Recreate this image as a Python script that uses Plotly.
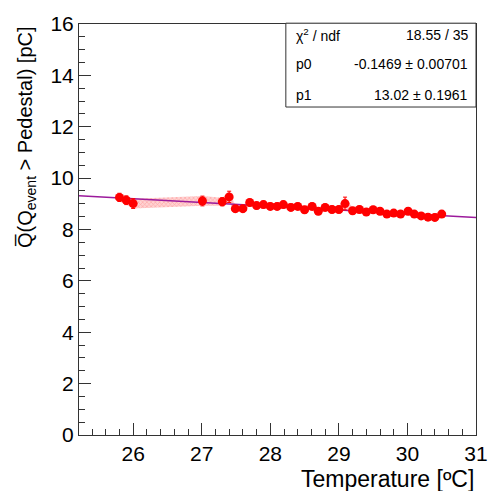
import numpy as np
import plotly.graph_objects as go

temperature = [25.80, 25.90, 26.00, 27.01, 27.30, 27.40, 27.49, 27.60, 27.70, 27.80,
               27.90, 28.00, 28.10, 28.19, 28.30, 28.40, 28.50, 28.61, 28.70, 28.80,
               28.90, 29.00, 29.09, 29.20, 29.30, 29.40, 29.50, 29.60, 29.70, 29.80,
               29.90, 30.01, 30.10, 30.20, 30.30, 30.40, 30.50]
charge = [9.25, 9.14, 9.01, 9.11, 9.08, 9.27, 8.81, 8.81, 9.05, 8.93,
          8.97, 8.90, 8.90, 8.97, 8.86, 8.90, 8.77, 8.90, 8.71, 8.86,
          8.78, 8.78, 9.01, 8.73, 8.78, 8.68, 8.77, 8.71, 8.60, 8.64,
          8.60, 8.71, 8.60, 8.53, 8.48, 8.47, 8.60]
charge_err = [0.16, 0.17, 0.19, 0.19, 0.16, 0.22, 0.13, 0.13, 0.13, 0.13,
              0.13, 0.13, 0.13, 0.13, 0.13, 0.13, 0.13, 0.13, 0.13, 0.13,
              0.13, 0.13, 0.25, 0.13, 0.13, 0.13, 0.13, 0.13, 0.13, 0.13,
              0.13, 0.13, 0.13, 0.13, 0.13, 0.13, 0.13]

fit_p0 = -0.1469
fit_p1 = 13.02
stats_labels = ["\u03c7<sup>2</sup> / ndf", "p0", "p1"]
stats_values = ["18.55 / 35", "-0.1469 \u00b1 0.00701", "13.02 \u00b1 0.1961"]

x_range = [25.21, 31.0]
y_range = [0, 16]

FONT = "Liberation Sans, Arial, Helvetica, sans-serif"

t = np.array(temperature)
q = np.array(charge)
e = np.array(charge_err)

fig = go.Figure()

# error band
fig.add_trace(go.Scatter(
    x=np.concatenate([t, t[::-1]]),
    y=np.concatenate([q + e, (q - e)[::-1]]),
    fill="toself", mode="lines", line=dict(width=0, color="rgba(0,0,0,0)"),
    fillcolor="rgba(255,150,150,0.7)",
    fillpattern=dict(shape="x", fgcolor="rgba(255,90,90,0.8)", bgcolor="rgba(255,205,205,0.9)",
                     size=3, solidity=0.35),
    hoverinfo="skip", showlegend=False))

# fit line
xf = np.linspace(x_range[0], x_range[1], 50)
fig.add_trace(go.Scatter(x=xf, y=fit_p1 + fit_p0 * xf, mode="lines",
                         line=dict(color="#9c1a9c", width=1.5), showlegend=False))

# data points
fig.add_trace(go.Scatter(
    x=t, y=q, mode="markers",
    marker=dict(color="#ff0000", size=9, symbol="circle"),
    error_y=dict(type="data", array=e, color="#ff0000", thickness=1, width=2),
    showlegend=False))

fig.update_layout(
    width=500, height=491,
    margin=dict(l=79, r=13, t=16, b=56),
    paper_bgcolor="white", plot_bgcolor="white",
    font=dict(family=FONT, color="black"),
    xaxis=dict(range=x_range, showgrid=False, zeroline=False,
               showline=True, linecolor="#333333", linewidth=1, mirror=True,
               ticks="inside", ticklen=12, tickcolor="#333333",
               tickmode="linear", tick0=26, dtick=1,
               tickfont=dict(size=21, family=FONT),
               minor=dict(ticks="inside", ticklen=6, dtick=0.2, tick0=26, tickcolor="#333333")),
    yaxis=dict(range=y_range, showgrid=False, zeroline=False,
               showline=True, linecolor="#333333", linewidth=1, mirror=True,
               ticks="inside", ticklen=12, tickcolor="#333333",
               tickmode="linear", tick0=0, dtick=2,
               tickfont=dict(size=21, family=FONT),
               minor=dict(ticks="inside", ticklen=6, dtick=0.5, tick0=0, tickcolor="#333333")),
)

# axis titles
fig.add_annotation(text="Temperature [\u00baC]", xref="paper", yref="paper",
                   x=1.0, y=0, yshift=-29, xanchor="right", yanchor="top",
                   showarrow=False, font=dict(size=23, family=FONT))
fig.add_annotation(text="Q\u0305(Q<sub>event</sub> > Pedestal) [pC]", xref="paper", yref="paper",
                   x=0, xshift=-53, y=1.0, xanchor="center", yanchor="top", textangle=-90,
                   showarrow=False, font=dict(size=20, family=FONT))

# stats box
fig.add_shape(type="rect", xref="paper", yref="paper", x0=0.521, x1=1.0, y0=0.798, y1=1.002,
              line=dict(color="#333333", width=1), fillcolor="white", layer="above")
rows_y = [0.973, 0.902, 0.828]
for lab, val, yy in zip(stats_labels, stats_values, rows_y):
    fig.add_annotation(text=lab, xref="paper", yref="paper", x=0.541, y=yy,
                       xanchor="left", yanchor="middle", showarrow=False,
                       font=dict(size=14, family=FONT))
    fig.add_annotation(text=val, xref="paper", yref="paper", x=0.985, y=yy,
                       xanchor="right", yanchor="middle", showarrow=False,
                       font=dict(size=14, family=FONT))

fig.write_html("out.html", config={"displayModeBar": False},
               post_script="document.body.style.margin='0px';document.body.style.overflow='hidden';")
